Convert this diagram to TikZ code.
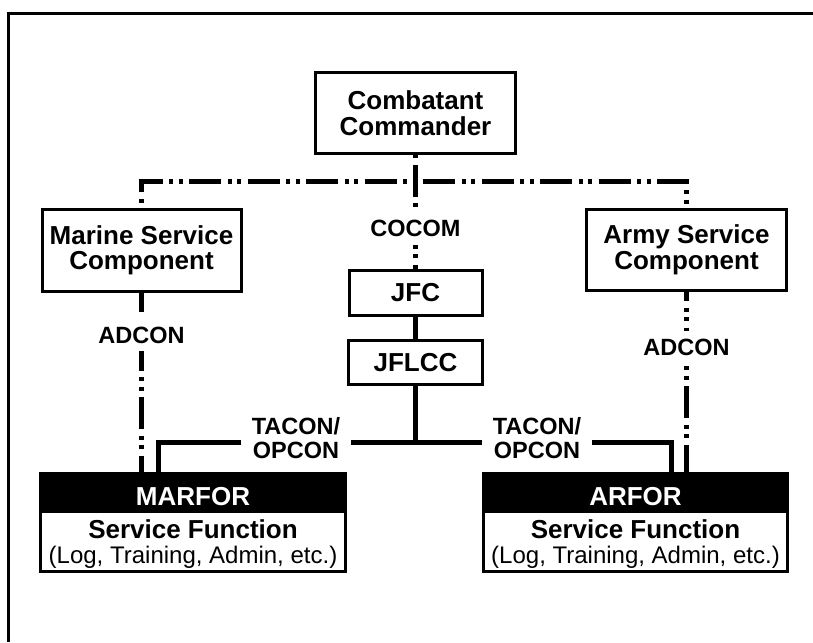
\documentclass[tikz,border=0pt]{standalone}
\usepackage{fontspec}
\setmainfont{Liberation Sans}
\begin{document}
\begin{tikzpicture}[x=1pt,y=-1pt,
  box/.style={draw, line width=3pt, align=center, inner sep=0pt, font=\bfseries\fontsize{26}{25.5}\selectfont},
  forbox/.style={draw, line width=3pt, inner sep=0pt, minimum height=98pt,
    path picture={\fill (path picture bounding box.north west) rectangle ([yshift=-39.5pt]path picture bounding box.north east);}},
  fortitle/.style={anchor=base, text=white, font=\bfseries\fontsize{26}{26}\selectfont},
  forsub/.style={anchor=base, font=\bfseries\fontsize{26}{26}\selectfont},
  forlist/.style={anchor=base, font=\fontsize{24}{24}\selectfont},
  dd/.style={line width=5pt, dash pattern=on 32pt off 6.5pt on 4pt off 5.5pt on 4pt off 6.5pt},
  sl/.style={line width=5pt},
  lbl/.style={fill=white, inner xsep=11pt, inner ysep=8pt, align=center, font=\bfseries\fontsize{23.5}{24}\selectfont},
]
\useasboundingbox (0,0) rectangle (813,642);
% frame
\draw[line width=3pt] (8.3,642) -- (8.3,13.5) -- (813,13.5);

% boxes
\node[box, minimum width=200pt, minimum height=81pt] (cc) at (415.5,113) {Combatant\\Commander};
\node[box, minimum width=199pt, minimum height=82pt] (mar) at (141.5,250.5) {Marine Service\\Component};
\node[box, minimum width=200pt, minimum height=81pt] (army) at (686.5,250) {Army Service\\Component};
\node[box, minimum width=133pt, minimum height=45pt] (jfc) at (415.5,293) {JFC};
\node[box, minimum width=134pt, minimum height=44pt] (jflcc) at (415.5,362.5) {JFLCC};

\node[forbox, minimum width=305pt] (marfor) at (193,522.5) {};
\node[fortitle] (mt) at (193,505) {MARFOR};
\node[forsub] (ms) at (193,538) {Service Function};
\node[forlist] (ml) at (193,563) {(Log, Training, Admin, etc.)};

\node[forbox, minimum width=304pt] (arfor) at (635.5,522.5) {};
\node[fortitle] (at) at (635.5,505) {ARFOR};
\node[forsub] (as) at (635.5,538) {Service Function};
\node[forlist] (al) at (635.5,563) {(Log, Training, Admin, etc.)};

% COCOM dash-dot-dot lines
\coordinate (hl) at (415.5,181);
\draw[dd, dash phase=42.5pt] (mar.north) -- (mar.north |- hl) -- (army.north |- hl) -- (army.north);
\node[lbl] (cocom) at (415.5,228) {COCOM};
\draw[dd, dash phase=49pt] (cc.south) -- (cocom.north);
\draw[dd, dash phase=38.5pt] (cocom.south) -- (jfc.north);

% ADCON lines
\draw[dd, dash phase=13pt] (mar.south) -- (mar.south |- marfor.north);
\draw[dd, dash phase=23pt] (army.south) -- (army.south |- arfor.north);
\node[lbl] (ad1) at (141.5,335) {ADCON};
\node[lbl] (ad2) at (686.5,347) {ADCON};

% solid command lines
\coordinate (tj) at (415.5,442);
\coordinate (mfin) at (158,473.5);
\coordinate (afin) at (671,473.5);
\draw[sl] (jfc.south) -- (jflcc.north);
\draw[sl] (jflcc.south) -- (tj);
\draw[sl] (mfin) |- (tj) -| (afin);
\node[lbl] (tac1) at (296,438.5) {TACON/\\OPCON};
\node[lbl] (tac2) at (537,438.5) {TACON/\\OPCON};
\end{tikzpicture}
\end{document}
